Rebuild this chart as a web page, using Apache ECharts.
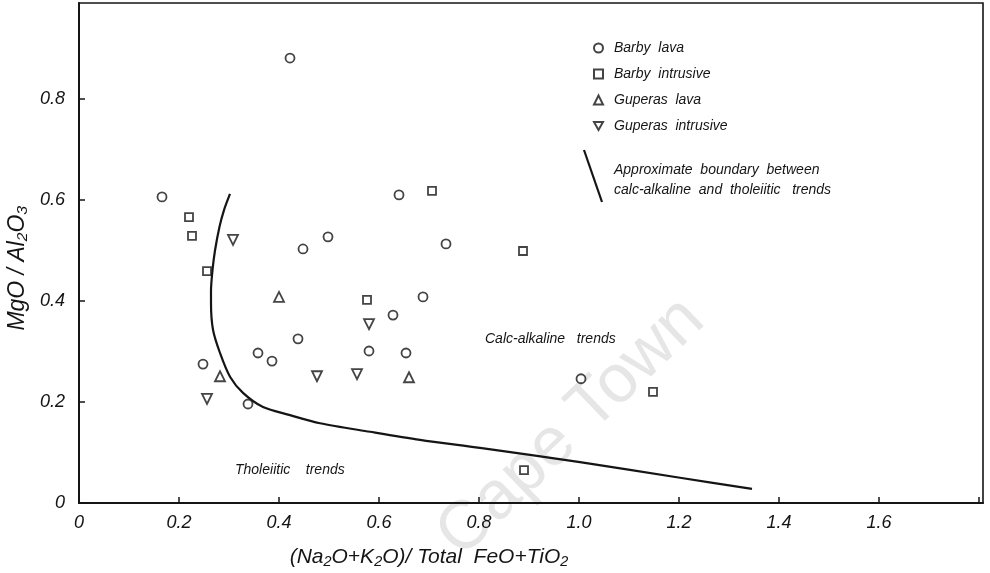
<!DOCTYPE html>
<html>
<head>
<meta charset="utf-8">
<script src="https://cdn.jsdelivr.net/npm/echarts@6/dist/echarts.min.js"></script>
<style>html,body{margin:0;padding:0;background:#fff}#c{width:990px;height:573px}</style>
</head>
<body>
<div id="c"></div>
<script>
// ---- data (x = (Na2O+K2O)/Total FeO+TiO2, y = MgO/Al2O3) ----
const barbyLava = [
  [0.166,0.606],[0.422,0.881],[0.448,0.503],[0.498,0.527],[0.640,0.610],
  [0.734,0.513],[0.688,0.408],[0.628,0.372],[0.438,0.325],[0.580,0.301],
  [0.654,0.297],[0.358,0.297],[0.386,0.281],[0.248,0.275],[0.338,0.196],
  [1.004,0.246]
];
const barbyIntrusive = [
  [0.220,0.566],[0.226,0.529],[0.256,0.459],[0.576,0.402],[0.706,0.618],
  [0.888,0.499],[1.148,0.220],[0.890,0.065]
];
const guperasLava = [[0.400,0.408],[0.282,0.251],[0.660,0.249]];
const guperasIntrusive = [[0.308,0.521],[0.580,0.354],[0.476,0.251],[0.556,0.255],[0.256,0.206]];
const boundary = [
  [0.302,0.612],[0.290,0.580],[0.281,0.547],[0.272,0.500],[0.267,0.461],
  [0.264,0.420],[0.264,0.396],[0.268,0.343],[0.282,0.297],[0.302,0.250],
  [0.328,0.218],[0.368,0.190],[0.422,0.174],[0.482,0.158],[0.582,0.141],
  [0.682,0.125],[0.802,0.109],[1.002,0.081],[1.202,0.050],[1.346,0.028]
];
const seriesNames = ['Barby  lava','Barby  intrusive','Guperas  lava','Guperas  intrusive'];
const xTicks = [0,0.2,0.4,0.6,0.8,1.0,1.2,1.4,1.6];
const yTicks = [0,0.2,0.4,0.6,0.8];

const FONT = '"Liberation Sans", Arial, sans-serif';
const INK = '#151515';
const chart = echarts.init(document.getElementById('c'));
const mk = (name, data, symbol, rot, size) => ({
  name, type: 'scatter', data, symbol, symbolSize: size, symbolRotate: rot, z: 5,
  itemStyle: { color: '#fff', borderColor: INK, borderWidth: 1.8 }
});
const fmtX = v => { const t = xTicks.find(k => Math.abs(k - v) < 1e-6); return t === undefined ? '' : (t === 0 ? '0' : t.toFixed(1)); };
const fmtY = v => { const t = yTicks.find(k => Math.abs(k - v) < 1e-6); return t === undefined ? '' : (t === 0 ? '0' : t.toFixed(1)); };
const legendIcons = ['circle', 'rect', 'triangle', 'path://M0,0 L10,0 L5,9 Z'];

chart.setOption({
  animation: false,
  backgroundColor: '#fff',
  grid: { left: 79, right: 7, top: 3, bottom: 70, show: true, borderColor: INK, borderWidth: 1.6, containLabel: false, outerBoundsMode: 'none' },
  xAxis: {
    type: 'value', min: 0, max: 1.808, interval: 0.2,
    axisLine: { lineStyle: { color: INK, width: 2 } },
    axisTick: { inside: true, length: 6, lineStyle: { color: INK, width: 1.5 } },
    splitLine: { show: false },
    axisLabel: { formatter: fmtX, showMaxLabel: false, margin: 11, fontFamily: FONT, fontStyle: 'italic', fontSize: 18, color: INK },
    name: '(Na₂O+K₂O)/ Total  FeO+TiO₂', nameLocation: 'middle', nameGap: 44,
    nameTextStyle: { fontFamily: '"Liberation Sans Narrow", "Liberation Sans", sans-serif', fontStyle: 'italic', fontSize: 21, color: INK, padding: [0,0,0,-204] }
  },
  yAxis: {
    type: 'value', min: 0, max: 0.99, interval: 0.2,
    axisLine: { lineStyle: { color: INK, width: 2 } },
    axisTick: { inside: true, length: 6, lineStyle: { color: INK, width: 1.5 } },
    splitLine: { show: false },
    axisLabel: { formatter: fmtY, showMaxLabel: false, margin: 14, fontFamily: FONT, fontStyle: 'italic', fontSize: 18, color: INK },
    name: 'MgO / Al₂O₃', nameLocation: 'middle', nameGap: 45,
    nameTextStyle: { fontFamily: FONT, fontStyle: 'italic', fontSize: 23, color: INK, padding: [0,0,0,-30] }
  },
  legend: {
    data: seriesNames.map((n, i) => ({ name: n, icon: legendIcons[i] })),
    orient: 'vertical', left: 588, top: 36,
    itemWidth: 9, itemHeight: 9, itemGap: 12,
    textStyle: { fontFamily: FONT, fontStyle: 'italic', fontSize: 14, color: INK, lineHeight: 14, padding: [0,0,0,6] }
  },
  series: [
    mk(seriesNames[0], barbyLava, 'circle', 0, 9),
    mk(seriesNames[1], barbyIntrusive, 'rect', 0, 8),
    mk(seriesNames[2], guperasLava, 'triangle', 0, 10),
    mk(seriesNames[3], guperasIntrusive, 'triangle', 180, 10),
    { name: 'boundary', type: 'line', data: boundary, smooth: 0.3, symbol: 'none', z: 3,
      lineStyle: { color: INK, width: 2.2 } }
  ],
  graphic: [
    { type: 'text', left: 425, top: 285, rotation: Math.PI / 4.1, z: -10, silent: true,
      style: { text: 'Cape Town', font: '68px "Liberation Sans", sans-serif', fill: '#e6e6e6' } },
    { type: 'line', shape: { x1: 584, y1: 150, x2: 602, y2: 202 }, style: { stroke: INK, lineWidth: 2.2 } },
    { type: 'text', left: 614, top: 160,
      style: { text: 'Approximate  boundary  between\ncalc-alkaline  and  tholeiitic   trends', font: 'italic 14px "Liberation Sans", sans-serif', fill: INK, lineHeight: 20 } },
    { type: 'text', left: 485, top: 332,
      style: { text: 'Calc-alkaline   trends', font: 'italic 14px "Liberation Sans", sans-serif', fill: INK } },
    { type: 'text', left: 235, top: 463,
      style: { text: 'Tholeiitic    trends', font: 'italic 14px "Liberation Sans", sans-serif', fill: INK } }
  ]
});
</script>
</body>
</html>
